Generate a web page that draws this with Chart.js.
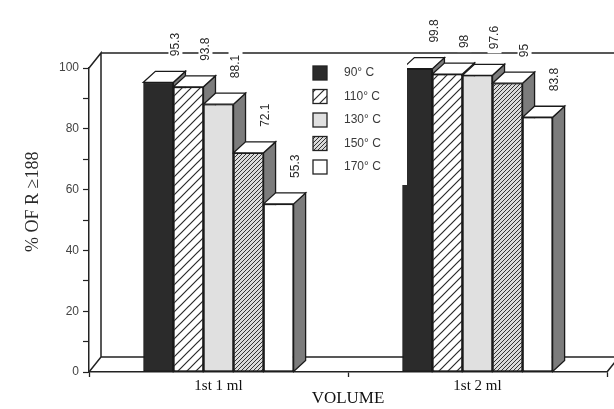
<!DOCTYPE html>
<html>
<head>
<meta charset="utf-8">
<script src="https://cdn.jsdelivr.net/npm/chart.js@4.4.1/dist/chart.umd.min.js"></script>
<style>
  html, body { margin: 0; padding: 0; background: #fff; }
</style>
</head>
<body>
<canvas id="chart" width="614" height="409"></canvas>
<script>
// data
const categories = ['1st 1 ml', '1st 2 ml'];
const tempLabels = ['90° C', '110° C', '130° C', '150° C', '170° C'];
const t90 = [95.3, 99.8];
const t110 = [93.8, 98];
const t130 = [88.1, 97.6];
const t150 = [72.1, 95];
const t170 = [55.3, 83.8];
const yTitle = '% OF R ≥188';
const xTitle = 'VOLUME';

const DX = 12, DY = 11;  // depth of the bars
const WX = 12, WY = 15;  // depth of walls / floor

const ctx = document.getElementById('chart').getContext('2d');

// diagonal hatch, lines going "/"
function hatch(bg, fg, gap, lw) {
  const c = document.createElement('canvas');
  c.width = gap; c.height = gap;
  const g = c.getContext('2d');
  g.fillStyle = bg;
  g.fillRect(0, 0, gap, gap);
  g.strokeStyle = fg;
  g.lineWidth = lw;
  g.beginPath();
  g.moveTo(0, gap); g.lineTo(gap, 0);
  g.moveTo(-1, 1); g.lineTo(1, -1);
  g.moveTo(gap - 1, gap + 1); g.lineTo(gap + 1, gap - 1);
  g.stroke();
  return ctx.createPattern(c, 'repeat');
}

const fills = [
  '#2b2b2b',
  hatch('#ffffff', '#2a2a2a', 9, 1.2),
  '#e0e0e0',
  hatch('#dadada', '#333333', 4, 1),
  '#ffffff'
];
const series = [t90, t110, t130, t150, t170];

// walls and floor, behind the bars
const boxPlugin = {
  id: 'box3d',
  beforeDatasetsDraw(chart) {
    const { ctx, chartArea: { left, right, top, bottom } } = chart;
    ctx.save();
    ctx.strokeStyle = '#222';
    ctx.lineWidth = 1.5;
    ctx.beginPath();
    ctx.moveTo(left, top);
    ctx.lineTo(left + WX, top - WY);
    ctx.lineTo(left + WX, bottom - WY);
    ctx.lineTo(left, bottom);
    ctx.moveTo(left + WX, top - WY);
    ctx.lineTo(chart.width, top - WY);
    ctx.moveTo(left + WX, bottom - WY);
    ctx.lineTo(right + WX, bottom - WY);
    ctx.lineTo(right, bottom);
    ctx.stroke();
    ctx.restore();
  },
  // redraw the bars left to right with their side and top faces
  afterDatasetsDraw(chart) {
    const ctx = chart.ctx;
    ctx.save();
    ctx.lineWidth = 1.3;
    ctx.strokeStyle = '#1a1a1a';
    for (let d = 0; d < chart.data.datasets.length; d++) {
      chart.getDatasetMeta(d).data.forEach(bar => {
        const { x, y, base, width } = bar.getProps(['x', 'y', 'base', 'width'], true);
        const l = x - width / 2, r = x + width / 2;
        bar.draw(ctx);
        // side
        ctx.fillStyle = '#7c7c7c';
        ctx.beginPath();
        ctx.moveTo(r, y);
        ctx.lineTo(r + DX, y - DY);
        ctx.lineTo(r + DX, base - DY);
        ctx.lineTo(r, base);
        ctx.closePath();
        ctx.fill();
        ctx.stroke();
        // top
        ctx.fillStyle = '#ffffff';
        ctx.beginPath();
        ctx.moveTo(l, y);
        ctx.lineTo(l + DX, y - DY);
        ctx.lineTo(r + DX, y - DY);
        ctx.lineTo(r, y);
        ctx.closePath();
        ctx.fill();
        ctx.stroke();
      });
    }
    ctx.restore();
  },
  afterDraw(chart) {
    const { ctx, chartArea: { left, top, bottom } } = chart;
    ctx.save();

    // value labels, rotated, with a white gap in the wall line
    ctx.font = '12px "Liberation Sans", Arial, sans-serif';
    ctx.textBaseline = 'middle';
    ctx.textAlign = 'left';
    chart.data.datasets.forEach((ds, d) => {
      chart.getDatasetMeta(d).data.forEach((bar, i) => {
        const { x, y, width } = bar.getProps(['x', 'y', 'width'], true);
        const txt = String(ds.data[i]);
        const w = ctx.measureText(txt).width;
        ctx.save();
        ctx.translate(x + width / 2 + 2, y - 26);
        ctx.rotate(-Math.PI / 2);
        ctx.fillStyle = '#fff';
        ctx.fillRect(-4, -7, w + 8, 14);
        ctx.fillStyle = '#2a2a2a';
        ctx.fillText(txt, 0, 0);
        ctx.restore();
      });
    });

    // legend box
    const bx = left + 211, by = top - 12;
    ctx.fillStyle = '#fff';
    ctx.fillRect(bx, by, 107, 129);
    ctx.font = '12px "Liberation Sans", Arial, sans-serif';
    chart.data.datasets.forEach((ds, d) => {
      const cy = by + 17 + d * 23.5;
      ctx.fillStyle = ds.backgroundColor;
      ctx.fillRect(bx + 13, cy - 7, 14, 14);
      ctx.strokeStyle = '#222';
      ctx.lineWidth = 1.3;
      ctx.strokeRect(bx + 13, cy - 7, 14, 14);
      ctx.fillStyle = '#3a3a3a';
      ctx.fillText(ds.label, bx + 44, cy);
    });

    // y title
    ctx.translate(33, top + (bottom - top) * 0.44);
    ctx.rotate(-Math.PI / 2);
    ctx.font = '18px "Liberation Serif", "Times New Roman", serif';
    ctx.textAlign = 'center';
    ctx.fillStyle = '#2a2a2a';
    ctx.fillText(yTitle, 0, 0);
    ctx.restore();
  }
};

new Chart(ctx, {
  type: 'bar',
  data: {
    labels: categories,
    datasets: series.map((vals, i) => ({
      label: tempLabels[i],
      data: vals,
      backgroundColor: fills[i],
      borderColor: '#1a1a1a',
      borderWidth: 1.3,
      borderSkipped: false,
      categoryPercentage: 0.58,
      barPercentage: 1.0
    }))
  },
  options: {
    responsive: false,
    animation: false,
    events: [],
    layout: { padding: { top: 68, right: 7, left: 0, bottom: 0 } },
    plugins: {
      legend: { display: false },
      tooltip: { enabled: false }
    },
    scales: {
      x: {
        afterFit(scale) { scale.height = 37; },
        grid: { offset: true, drawOnChartArea: false, tickLength: 5, tickColor: '#222', tickWidth: 1.3 },
        border: { color: '#222', width: 1.5 },
        ticks: {
          font: { family: '"Liberation Serif", "Times New Roman", serif', size: 15 },
          color: '#111',
          padding: 0
        },
        title: {
          display: true,
          text: xTitle,
          font: { family: '"Liberation Serif", "Times New Roman", serif', size: 17 },
          color: '#111',
          padding: { top: 0, bottom: 0 }
        }
      },
      y: {
        min: 0,
        max: 100,
        afterFit(scale) { scale.width = 89; },
        grid: { drawOnChartArea: false, tickLength: 6, tickColor: '#222', tickWidth: 1.2 },
        border: { color: '#222', width: 1.5 },
        ticks: {
          stepSize: 10,
          padding: 4,
          color: '#444',
          font: { family: '"Liberation Sans", Arial, sans-serif', size: 12 },
          callback: v => (v % 20 === 0 ? v : '')
        }
      }
    }
  },
  plugins: [boxPlugin]
});
</script>
</body>
</html>
